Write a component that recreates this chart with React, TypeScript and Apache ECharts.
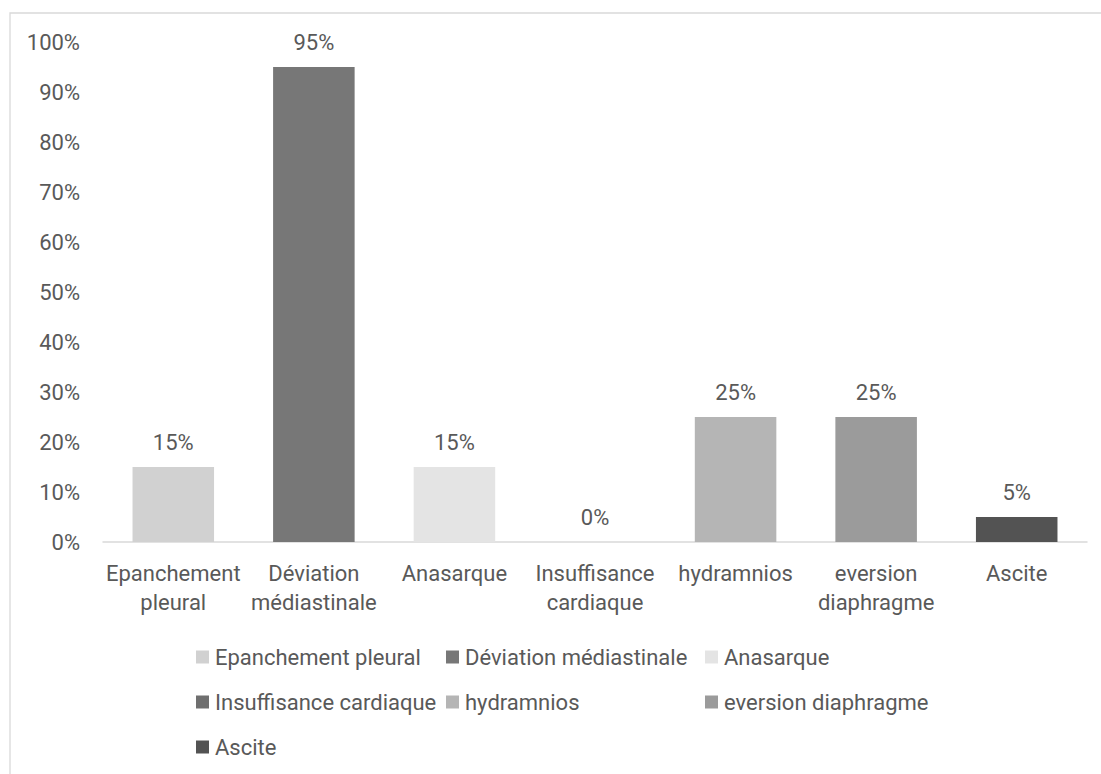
import React, { useEffect, useRef } from "react";
import * as echarts from "echarts";

const categories = [
  "Epanchement pleural",
  "Déviation médiastinale",
  "Anasarque",
  "Insuffisance cardiaque",
  "hydramnios",
  "eversion diaphragme",
  "Ascite",
];
const tickLabels = [
  "Epanchement\npleural",
  "Déviation\nmédiastinale",
  "Anasarque",
  "Insuffisance\ncardiaque",
  "hydramnios",
  "eversion\ndiaphragme",
  "Ascite",
];
const values = [15, 95, 15, 0, 25, 25, 5];
const colors = ["#d1d1d1", "#777777", "#e4e4e4", "#6f6f6f", "#b5b5b5", "#9b9b9b", "#535353"];
const legendColumns = [
  ["Epanchement pleural", "Insuffisance cardiaque", "Ascite"],
  ["Déviation médiastinale", "hydramnios"],
  ["Anasarque", "eversion diaphragme"],
];
const legendLefts = [196, 446, 705];

const FONT = "Roboto";
const TEXT = "#595959";

export default function App() {
  const ref = useRef<HTMLDivElement>(null);
  useEffect(() => {
    const chart = echarts.init(ref.current!, null, { renderer: "svg" });
    const series = categories.map((name, i) => ({
      name,
      type: "bar",
      stack: "all",
      barCategoryGap: "42%",
      itemStyle: { color: colors[i] },
      label: {
        show: true,
        position: "top",
        distance: 14,
        formatter: "{c}%",
        color: TEXT,
        fontSize: 22,
        fontFamily: FONT,
      },
      data: values.map((v, j) => (j === i ? v : "-")),
    }));
    chart.setOption({
      animation: false,
      backgroundColor: "#ffffff",
      textStyle: { fontFamily: FONT },
      graphic: [
        {
          type: "rect",
          shape: { x: 10, y: 13, width: 1300, height: 1000 },
          style: { fill: "none", stroke: "#d9d9d9", lineWidth: 1.3 },
          silent: true,
        },
      ],
      grid: { left: 103, top: 42, width: 984, height: 500 },
      xAxis: {
        type: "category",
        data: tickLabels,
        axisLine: { lineStyle: { color: "#d9d9d9", width: 1.5 } },
        axisTick: { show: false },
        axisLabel: {
          color: TEXT,
          fontSize: 22,
          fontFamily: FONT,
          margin: 17,
          lineHeight: 29,
          interval: 0,
        },
      },
      yAxis: {
        type: "value",
        min: 0,
        max: 100,
        interval: 10,
        axisLine: { show: false },
        axisTick: { show: false },
        splitLine: { show: false },
        axisLabel: {
          formatter: "{value}%",
          color: TEXT,
          fontSize: 22,
          fontFamily: FONT,
          margin: 23,
        },
      },
      legend: legendColumns.map((col, k) => ({
        data: col,
        orient: "vertical",
        left: legendLefts[k],
        top: 646,
        padding: 0,
        itemWidth: 13,
        itemHeight: 13,
        itemGap: 23,
        icon: "rect",
        selectedMode: false,
        textStyle: {
          color: TEXT,
          fontSize: 22,
          fontFamily: FONT,
          lineHeight: 22,
          padding: [0, 0, 0, 1],
        },
      })),
      series,
    });
    return () => chart.dispose();
  }, []);
  return (
    <div
      ref={ref}
      style={{ position: "fixed", left: 0, top: 0, width: 1101, height: 774 }}
    />
  );
}
